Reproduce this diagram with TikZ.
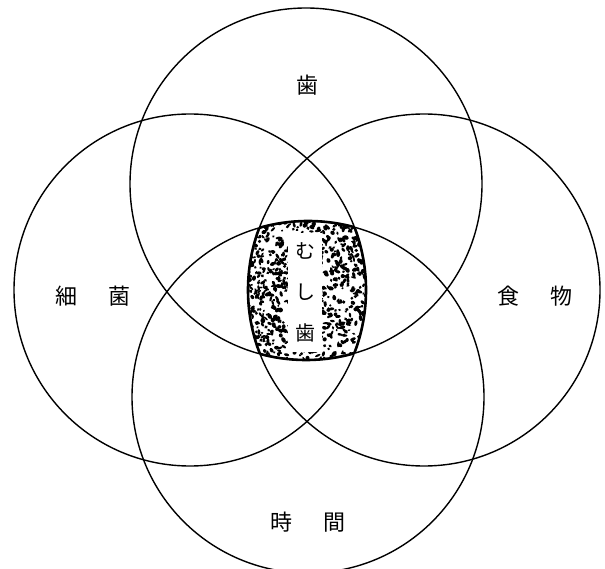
\documentclass[tikz,border=0pt]{standalone}
\usepackage{fontspec}
\newfontfamily\cjk{Noto Sans CJK JP}
\begin{document}
\begin{tikzpicture}[x=1pt,y=-1pt,
  circ/.style={line width=1.4pt},
  edge/.style={line width=2.6pt},
  lab/.style={font=\cjk\fontsize{22}{22}\selectfont, inner sep=0pt},
  vlab/.style={font=\cjk\fontsize{20}{41}\selectfont, inner sep=0pt, align=center}]
\useasboundingbox (0,0) rectangle (605,569);
\coordinate (T) at (306,184);
\coordinate (B) at (308,397);
\coordinate (L) at (190,290);
\coordinate (R) at (424,290);
\def\rad{176}
% stippled core
\begin{scope}
  \clip (T) circle[radius=\rad];
  \clip (B) circle[radius=\rad];
  \clip (L) circle[radius=\rad];
  \clip (R) circle[radius=\rad];
  \pgfmathsetseed{7}
  \foreach \i in {1,...,1100}{
    \pgfmathsetmacro\px{240+135*rnd}
    \pgfmathsetmacro\py{215+150*rnd}
    \pgfmathsetmacro\ra{1.1+2.0*rnd}
    \pgfmathsetmacro\rb{0.9+1.2*rnd}
    \pgfmathsetmacro\an{180*rnd}
    \fill[rotate around={\an:(\px,\py)}] (\px,\py) ellipse[x radius=\ra, y radius=\rb];
  }
  \fill[white] (288,233) rectangle (322,352);
\end{scope}
% thicker outline of the core
\begin{scope}
  \clip (B) circle[radius=\rad]; \clip (L) circle[radius=\rad]; \clip (R) circle[radius=\rad];
  \draw[edge] (T) circle[radius=\rad];
\end{scope}
\begin{scope}
  \clip (T) circle[radius=\rad]; \clip (L) circle[radius=\rad]; \clip (R) circle[radius=\rad];
  \draw[edge] (B) circle[radius=\rad];
\end{scope}
\begin{scope}
  \clip (T) circle[radius=\rad]; \clip (B) circle[radius=\rad]; \clip (R) circle[radius=\rad];
  \draw[edge] (L) circle[radius=\rad];
\end{scope}
\begin{scope}
  \clip (T) circle[radius=\rad]; \clip (B) circle[radius=\rad]; \clip (L) circle[radius=\rad];
  \draw[edge] (R) circle[radius=\rad];
\end{scope}
% circles
\draw[circ] (T) circle[radius=\rad];
\draw[circ] (B) circle[radius=\rad];
\draw[circ] (L) circle[radius=\rad];
\draw[circ] (R) circle[radius=\rad];
% labels
\node[lab] (ha) at (307,85) {歯};
\node[lab] (saikin) at (93,296) {細\hspace{31pt}菌};
\node[lab] (shokumotsu) at (535,296) {食\hspace{31pt}物};
\node[lab] (jikan) at (308,522) {時\hspace{31pt}間};
\node[vlab] (mushiba) at (305,292) {む\\し\\歯};
\end{tikzpicture}
\end{document}
